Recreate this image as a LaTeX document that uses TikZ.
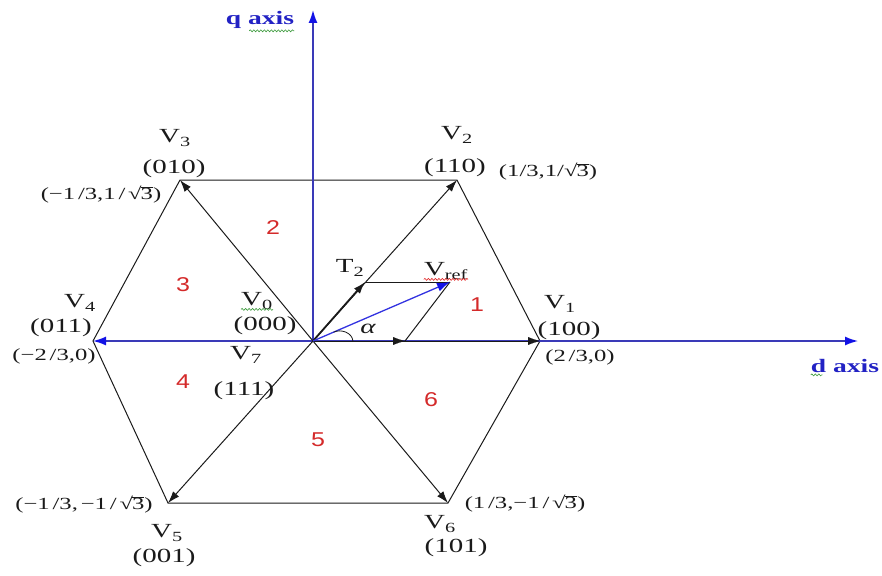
\documentclass[tikz,border=0pt]{standalone}
\usepackage{fontspec}
\setmainfont{Liberation Serif}[FakeStretch=1.45]
\newfontfamily\secfont{Liberation Sans}[FakeStretch=1.25]
\usetikzlibrary{arrows.meta,calc,decorations.pathmorphing}
\definecolor{ink}{HTML}{1A1A1A}
\definecolor{axisblue}{HTML}{3A3AB8}
\definecolor{tipblue}{HTML}{1212E6}
\definecolor{refblue}{HTML}{3333E0}
\definecolor{labblue}{HTML}{2222C4}
\definecolor{secred}{HTML}{D42A2A}
\definecolor{spellgreen}{HTML}{3C9A3C}
\definecolor{spellred}{HTML}{E02020}
\newcommand{\rtthree}{\char"221A\kern-.06em$\overline{\mbox{3}}$}
\tikzset{
  lbl/.style={inner sep=0pt,font=\fontsize{20}{20}\selectfont,text=ink},
  crd/.style={inner sep=0pt,font=\fontsize{17}{17}\selectfont,text=ink},
  sec/.style={inner sep=0pt,font=\secfont\fontsize{20}{20}\selectfont,text=secred},
  axlbl/.style={inner sep=0pt,font=\bfseries\fontsize{19}{19}\selectfont,text=labblue},
  hexline/.style={draw=ink,line width=1pt},
  vec/.style={hexline,-{Latex[length=12pt,width=8pt]}},
  tiponly/.style={vec,line width=.1pt},
  ax/.style={draw=axisblue,line width=1.5pt,-{Latex[length=13pt,width=9pt,color=tipblue]}},
  spell/.style={line width=.6pt,decorate,decoration={snake,amplitude=1pt,segment length=3.5pt}},
}

\begin{document}
\begin{tikzpicture}[x=1pt,y=-1pt]
  \useasboundingbox (0,0) rectangle (882,575);
  \coordinate (O) at (313,341);
  \coordinate (V1) at (540,341);
  \coordinate (V2) at (457,180);
  \coordinate (V3) at (180,180);
  \coordinate (V4) at (93,341);
  \coordinate (V5) at (168,503);
  \coordinate (V6) at (448,503);
  \coordinate (T1) at (405,341);
  \coordinate (T2) at (365,282);
  \coordinate (Vr) at (450,282);
  \coordinate (dend) at (858,341);
  \coordinate (qend) at (313,10);
  \coordinate (a1) at ($(O)!.15!(Vr)$);
  \coordinate (a2) at ($(O)!.176!(V1)$);

  % hexagon and axes
  \draw[hexline] (V1) -- (V2) -- (V3) -- (V4) -- (V5) -- (V6) -- cycle;
  \draw[ax] (O) -- (dend);
  \draw[ax] (O) -- (qend);
  \draw[ax] (O) -- (V4);

  % switching vectors
  \foreach \v in {V2,V3,V5,V6} \draw[vec] (O) -- (\v);
  \draw[tiponly] (O) -- (V1);
  \draw[tiponly] (O) -- (T1);

  % reference vector
  \draw[vec,line width=1.8pt] (O) -- (T2);
  \draw[hexline] (T2) -- (Vr);
  \draw[hexline] (T1) -- (Vr);
  \draw[ax,draw=refblue,line width=1.3pt] (O) -- (Vr);
  \draw[hexline,line width=.8pt] (a1) to[out=25,in=95] (a2);

  \node[axlbl] (qlbl) at (260,20) {q axis};
  \node[axlbl] (dlbl) at (845,366) {d axis};

  \node[lbl] (v1n) at (560,304) {V\textsubscript{1}};
  \node[lbl] (v1s) at (569,331) {(100)};
  \node[crd] (v1c) at (580,357) {(2\,/3,0)};
  \node[lbl] (v2n) at (457,135) {V\textsubscript{2}};
  \node[lbl] (v2s) at (455,168) {(110)};
  \node[crd] (v2c) at (548,172) {(1/3,1/\rtthree)};
  \node[lbl] (v3n) at (175,138) {V\textsubscript{3}};
  \node[lbl] (v3s) at (174,169) {(010)};
  \node[crd] (v3c) at (101,195) {(−1\,/3,1\,/\,\rtthree)};
  \node[lbl] (v4n) at (80,303) {V\textsubscript{4}};
  \node[lbl] (v4s) at (61,328) {(011)};
  \node[crd] (v4c) at (54,356) {(−2\,/3,0)};
  \node[crd] (v5c) at (84,505) {(−1\,/3,\,−1\,/\,\rtthree)};
  \node[lbl] (v5n) at (167,533) {V\textsubscript{5}};
  \node[lbl] (v5s) at (164,558) {(001)};
  \node[crd] (v6c) at (525,504) {(1\,/3,−1\,/\,\rtthree)};
  \node[lbl] (v6n) at (440,524) {V\textsubscript{6}};
  \node[lbl] (v6s) at (456,548) {(101)};
  \node[lbl] (v0n) at (257,301) {V\textsubscript{0}};
  \node[lbl] (v0s) at (265,326) {(000)};
  \node[lbl] (v7n) at (246,355) {V\textsubscript{7}};
  \node[lbl] (v7s) at (244,391) {(111)};
  \node[lbl] (t2n) at (350,268) {T\textsubscript{2}};
  \node[lbl] (vrn) at (446,271) {V\textsubscript{ref}};
  \node[lbl] (alph) at (368,329) {\itshape α};

  % sectors
  \foreach \n/\p in {1/{(477,305)},2/{(273,228)},3/{(183,285)},4/{(183,382)},5/{(318,440)},6/{(431,400)}}
    \node[sec] (s\n) at \p {\n};

  % spelling marks
  \draw[spell,spellgreen] ([xshift=-45pt,yshift=-2pt]qlbl.south east) -- ([yshift=-2pt]qlbl.south east);
  \draw[spell,spellgreen] ([yshift=-2pt]dlbl.south west) -- ([xshift=12pt,yshift=-2pt]dlbl.south west);
  \draw[spell,spellgreen] (v0n.south west) -- (v0n.south east);
  \draw[spell,spellred] (vrn.south west) -- (vrn.south east);
\end{tikzpicture}
\end{document}
